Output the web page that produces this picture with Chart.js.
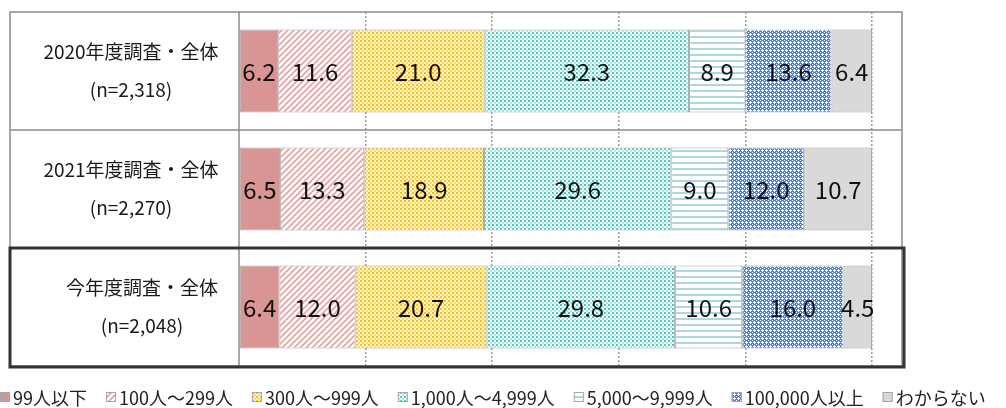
<!DOCTYPE html>
<html>
<head>
<meta charset="utf-8">
<script src="https://cdn.jsdelivr.net/npm/chart.js@4/dist/chart.umd.min.js"></script>
<style>
  html, body { margin: 0; padding: 0; background: #fff; }
  #wrap { width: 1006px; height: 408px; position: relative; }
</style>
</head>
<body>
<div id="wrap"><canvas id="chart"></canvas></div>
<script>
// --- データ ---
const rowTitles = ['2020年度調査・全体', '2021年度調査・全体', '今年度調査・全体'];
const rowCounts = ['(n=2,318)', '(n=2,270)', '(n=2,048)'];
const seriesNames = ['99人以下', '100人～299人', '300人～999人', '1,000人～4,999人', '5,000～9,999人', '100,000人以上', 'わからない'];
const under99 = [6.2, 6.5, 6.4];
const s100to299 = [11.6, 13.3, 12.0];
const s300to999 = [21.0, 18.9, 20.7];
const s1000to4999 = [32.3, 29.6, 29.8];
const s5000to9999 = [8.9, 9.0, 10.6];
const s100000plus = [13.6, 12.0, 16.0];
const unknown = [6.4, 10.7, 4.5];
const xTicks = [0, 20, 40, 60, 80, 100];
const highlightRow = 2;

const FONT = '"Noto Sans CJK JP", "Noto Sans", sans-serif';

// --- パターン作成 ---
function tile(w, h, draw) {
    const c = document.createElement('canvas');
    c.width = w; c.height = h;
    const g = c.getContext('2d');
    draw(g);
    return document.createElement('canvas').getContext('2d').createPattern(c, 'repeat');
}

const patterns = [
    '#D99594',
    tile(6, 6, g => {
        g.fillStyle = '#fff'; g.fillRect(0, 0, 6, 6);
        g.strokeStyle = '#E2A3A2'; g.lineWidth = 1.6;
        g.beginPath();
        g.moveTo(-1, 7); g.lineTo(7, -1);
        g.moveTo(-4, 4); g.lineTo(4, -4);
        g.moveTo(2, 10); g.lineTo(10, 2);
        g.stroke();
    }),
    tile(4, 4, g => {
        g.fillStyle = '#FFF6DA'; g.fillRect(0, 0, 4, 4);
        g.fillStyle = '#FFC000'; g.fillRect(0, 0, 2, 2);
        g.fillStyle = '#FFD85C'; g.fillRect(2, 2, 2, 2);
    }),
    tile(4, 4, g => {
        g.fillStyle = '#fff'; g.fillRect(0, 0, 4, 4);
        g.fillStyle = '#3FCFC6'; g.fillRect(0, 0, 2, 2);
        g.fillStyle = '#A8E9E4'; g.fillRect(2, 2, 2, 2);
    }),
    tile(6, 6, g => {
        g.fillStyle = '#fff'; g.fillRect(0, 0, 6, 6);
        g.fillStyle = '#ADD6E2'; g.fillRect(0, 0, 6, 2);
    }),
    tile(4, 4, g => {
        g.fillStyle = '#4C82DA'; g.fillRect(0, 0, 4, 4);
        g.fillStyle = '#fff';
        [[2, 1], [1, 2], [2, 2], [3, 2], [2, 3], [0, 0]].forEach(([x, y]) => g.fillRect(x, y, 1, 1));
    }),
    '#D9D9D9'
];

const seriesValues = [under99, s100to299, s300to999, s1000to4999, s5000to9999, s100000plus, unknown];

// 表の罫線と行ラベル
const tablePlugin = {
    id: 'tableLines',
    beforeDatasetsDraw(chart) {
        const { ctx, chartArea: a, scales: { y } } = chart;
        ctx.save();
        ctx.strokeStyle = '#8C8C8C';
        ctx.lineWidth = 1.5;
        ctx.strokeRect(10, a.top, 892, a.bottom - a.top);
        ctx.beginPath();
        ctx.moveTo(a.left, a.top); ctx.lineTo(a.left, a.bottom + 2);
        for (let i = 0; i < rowTitles.length - 1; i++) {
            const yy = (y.getPixelForValue(i) + y.getPixelForValue(i + 1)) / 2;
            ctx.moveTo(10, yy); ctx.lineTo(902, yy);
        }
        ctx.stroke();

        ctx.fillStyle = '#1a1a1a';
        ctx.font = '19px ' + FONT;
        ctx.textAlign = 'center';
        ctx.textBaseline = 'middle';
        rowTitles.forEach((t, i) => {
            const cy = y.getPixelForValue(i);
            const cx = i === highlightRow ? 142 : 131;
            ctx.fillText(t, cx, cy - 19);
            ctx.fillText(rowCounts[i], cx, cy + 19);
        });
        ctx.restore();
    },
    afterDatasetsDraw(chart) {
        const { ctx, scales: { y } } = chart;
        ctx.save();
        // 値ラベル
        ctx.fillStyle = '#111';
        ctx.font = '24px ' + FONT;
        ctx.textAlign = 'center';
        ctx.textBaseline = 'middle';
        chart.data.datasets.forEach((ds, di) => {
            chart.getDatasetMeta(di).data.forEach((bar, i) => {
                const cx = (bar.x + bar.base) / 2;
                ctx.fillText(ds.data[i].toFixed(1), cx, bar.y + 1);
            });
        });
        // 今年度の強調枠
        const step = y.getPixelForValue(1) - y.getPixelForValue(0);
        const cy = y.getPixelForValue(highlightRow);
        ctx.strokeStyle = '#333';
        ctx.lineWidth = 3;
        ctx.strokeRect(10, cy - step / 2, 894, step + 1);
        // 凡例
        ctx.font = '18px ' + FONT;
        ctx.textAlign = 'left';
        let x = 0;
        const ly = 397;
        chart.data.datasets.forEach(ds => {
            ctx.fillStyle = ds.backgroundColor;
            ctx.fillRect(x, ly - 5, 10, 10);
            ctx.strokeStyle = '#A6A6A6';
            ctx.lineWidth = 1;
            ctx.strokeRect(x + 0.5, ly - 4.5, 9, 9);
            ctx.fillStyle = '#222';
            ctx.fillText(ds.label, x + 13, ly + 1);
            x += 13 + ctx.measureText(ds.label).width + 19;
        });
        ctx.restore();
    }
};

new Chart(document.getElementById('chart'), {
    type: 'bar',
    data: {
        labels: rowTitles,
        datasets: seriesNames.map((name, i) => ({
            label: name,
            data: seriesValues[i],
            backgroundColor: patterns[i],
            borderColor: '#A6A6A6',
            borderWidth: 1,
            borderSkipped: false,
            categoryPercentage: 1,
            barPercentage: 0.705
        }))
    },
    options: {
        indexAxis: 'y',
        responsive: true,
        maintainAspectRatio: false,
        animation: false,
        layout: { padding: { left: 239, right: 134, top: 12, bottom: 42 } },
        plugins: {
            legend: { display: false },
            tooltip: { enabled: false }
        },
        scales: {
            x: {
                stacked: true,
                min: 0,
                max: 100,
                afterBuildTicks: s => { s.ticks = xTicks.map(v => ({ value: v })); },
                ticks: { display: false },
                border: { display: false, dash: [2, 2] },
                grid: {
                    drawTicks: false,
                    tickLength: 0,
                    color: ctx => ctx.tick && ctx.tick.value === 0 ? 'rgba(0,0,0,0)' : '#9A9A9A',
                    lineWidth: 1.5
                }
            },
            y: {
                stacked: true,
                display: false
            }
        }
    },
    plugins: [tablePlugin]
});
</script>
</body>
</html>
